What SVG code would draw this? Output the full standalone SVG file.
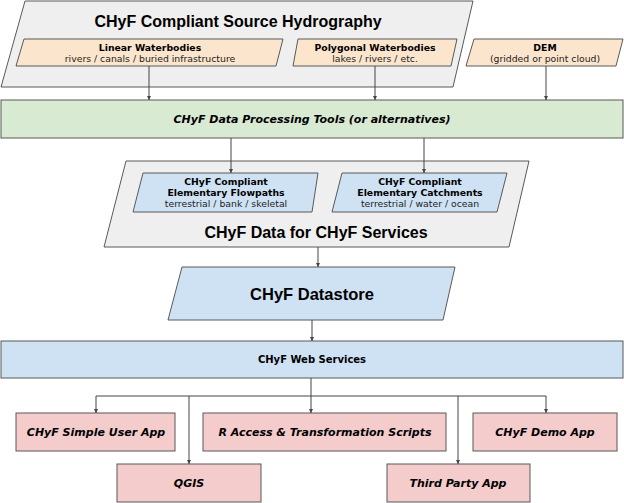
<svg xmlns="http://www.w3.org/2000/svg" width="624" height="503" viewBox="0 0 624 503">
<style>
.sh{stroke:#595959;stroke-width:1}
.gray{fill:#efefef}.org{fill:#fce5cd}.grn{fill:#d9ead3}.blu{fill:#cfe2f3}.pnk{fill:#f4cccc}
text{font-family:"DejaVu Sans",Verdana,sans-serif;fill:#000;text-anchor:middle}
.big{font-family:"Liberation Sans",Arial,sans-serif;font-weight:bold;font-size:16px}
.sb{font-weight:bold;font-size:9.3px}
.sr{font-size:9.3px;fill:#222}
.bi{font-weight:bold;font-style:italic;font-size:11px}
.ws{font-weight:bold;font-size:10px}
.con{fill:none;stroke:#444;stroke-width:1}
</style>
<defs>
<marker id="ah" viewBox="0 0 6 6" refX="6" refY="3" markerWidth="4" markerHeight="4" orient="auto">
<path d="M0,0 L6,3 L0,6 z" fill="#444"/>
</marker>
</defs>
<g id="source">
<polygon class="sh gray" points="25,1 473,1 453,87 1,87"/>
<text class="big" x="238" y="27">CHyF Compliant Source Hydrography</text>
</g>
<g id="linear">
<polygon class="sh org" points="24,39 283,39 276,66 16,66"/>
<text class="sb" x="150" y="51">Linear Waterbodies</text>
<text class="sr" x="150" y="62">rivers / canals / buried infrastructure</text>
</g>
<g id="polygonal">
<polygon class="sh org" points="298,39 457,39 451,66 293,66"/>
<text class="sb" x="375" y="51">Polygonal Waterbodies</text>
<text class="sr" x="375" y="62">lakes / rivers / etc.</text>
</g>
<g id="dem">
<polygon class="sh org" points="474,39 623,39 616,66 466,66"/>
<text class="sb" x="545" y="51">DEM</text>
<text class="sr" x="545" y="62">(gridded or point cloud)</text>
</g>
<g id="processing">
<rect class="sh grn" x="1" y="100" width="622" height="38"/>
<text class="bi" x="312" y="123">CHyF Data Processing Tools (or alternatives)</text>
</g>
<g id="dataforservices">
<polygon class="sh gray" points="126,161 529,161 509,247 104,247"/>
<text class="big" x="316" y="238">CHyF Data for CHyF Services</text>
</g>
<g id="flowpaths">
<polygon class="sh blu" points="143,173 318,173 312,212 133,212"/>
<text class="sb" x="226" y="185">CHyF Compliant</text>
<text class="sb" x="226" y="196">Elementary Flowpaths</text>
<text class="sr" x="226" y="207">terrestrial / bank / skeletal</text>
</g>
<g id="catchments">
<polygon class="sh blu" points="342,173 507,173 497,212 332,212"/>
<text class="sb" x="420" y="185">CHyF Compliant</text>
<text class="sb" x="420" y="196">Elementary Catchments</text>
<text class="sr" x="420" y="207">terrestrial / water / ocean</text>
</g>
<g id="datastore">
<polygon class="sh blu" points="182,267 455,267 443,320 168,320"/>
<text class="big" x="312" y="300" style="font-size:16.5px">CHyF Datastore</text>
</g>
<g id="webservices">
<rect class="sh blu" x="1" y="341" width="622" height="37"/>
<text class="ws" x="312" y="363">CHyF Web Services</text>
</g>
<g id="simpleapp">
<rect class="sh pnk" x="16" y="413" width="159" height="38"/>
<text class="bi" x="96" y="436">CHyF Simple User App</text>
</g>
<g id="raccess">
<rect class="sh pnk" x="203" y="413" width="243" height="38"/>
<text class="bi" x="325" y="436">R Access &amp; Transformation Scripts</text>
</g>
<g id="demoapp">
<rect class="sh pnk" x="473" y="413" width="144" height="38"/>
<text class="bi" x="545" y="436">CHyF Demo App</text>
</g>
<g id="qgis">
<rect class="sh pnk" x="117" y="464" width="144" height="38"/>
<text class="bi" x="189" y="487">QGIS</text>
</g>
<g id="thirdparty">
<rect class="sh pnk" x="387" y="464" width="143" height="38"/>
<text class="bi" x="458" y="487">Third Party App</text>
</g>
<g id="connectors">
<path class="con" d="M149,66 V100" marker-end="url(#ah)"/>
<path class="con" d="M375,66 V100" marker-end="url(#ah)"/>
<path class="con" d="M546,66 V100" marker-end="url(#ah)"/>
<path class="con" d="M231,138 V173" marker-end="url(#ah)"/>
<path class="con" d="M424,138 V173" marker-end="url(#ah)"/>
<path class="con" d="M318,247 V267" marker-end="url(#ah)"/>
<path class="con" d="M312,320 V341" marker-end="url(#ah)"/>
<path class="con" d="M311,378 V396 H96 V413" marker-end="url(#ah)"/>
<path class="con" d="M311,396 V413" marker-end="url(#ah)"/>
<path class="con" d="M311,396 H546 V413" marker-end="url(#ah)"/>
<path class="con" d="M189,396 V464" marker-end="url(#ah)"/>
<path class="con" d="M458,396 V464" marker-end="url(#ah)"/>
</g>
</svg>
